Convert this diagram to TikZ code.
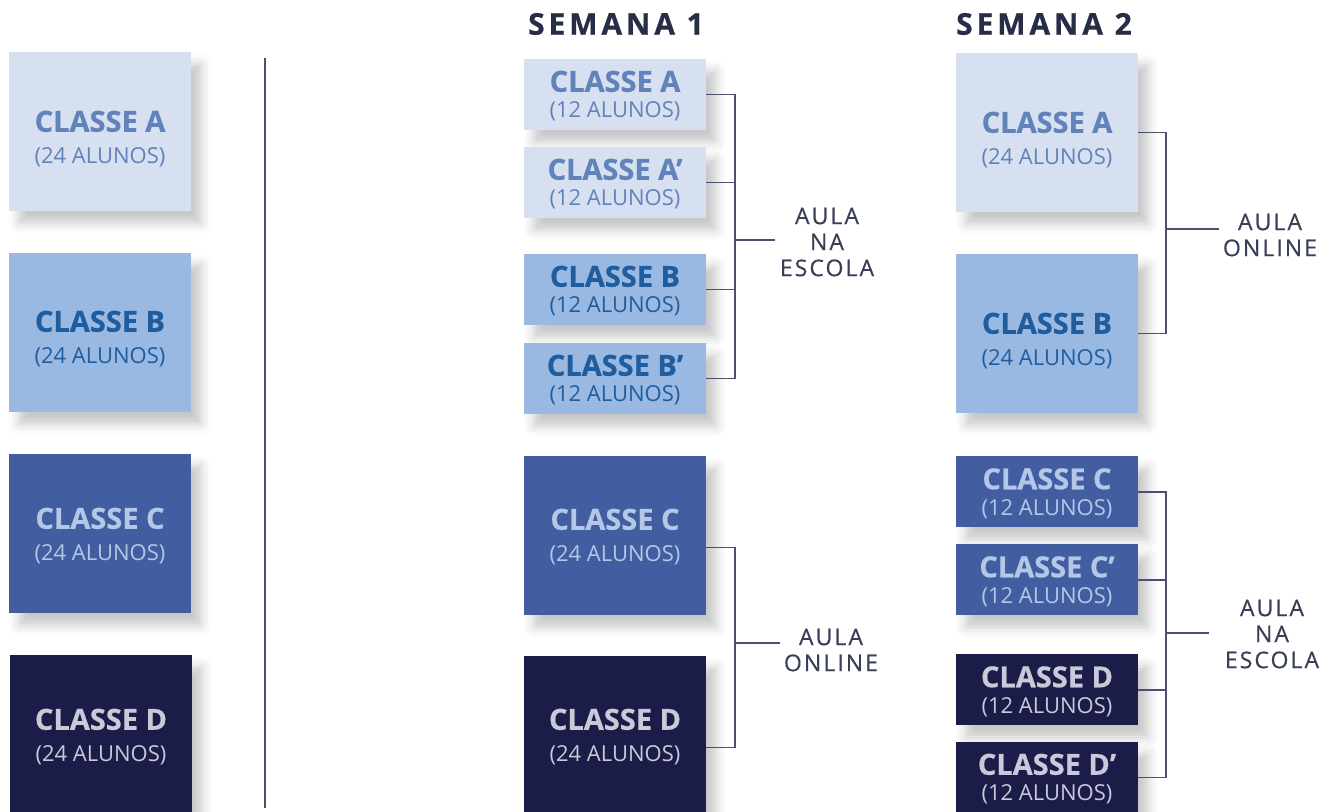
\documentclass[tikz,border=0pt]{standalone}
\usepackage{fontspec}
\setmainfont{Open Sans}
\usetikzlibrary{shadows.blur}

\definecolor{fillA}{HTML}{D6E0F1}
\definecolor{textA}{HTML}{6282BA}
\definecolor{fillB}{HTML}{9AB9E2}
\definecolor{textB}{HTML}{1F5D9F}
\definecolor{fillC}{HTML}{425EA0}
\definecolor{textC}{HTML}{B5C7E8}
\definecolor{fillD}{HTML}{1C1C49}
\definecolor{textD}{HTML}{C8C9D9}
\definecolor{titlec}{HTML}{272C47}
\definecolor{lblc}{HTML}{3A3F58}
\definecolor{linec}{HTML}{4B5070}

% [gap between lines][strut that pushes the text down]{name}{pupils}
\NewDocumentCommand{\cls}{O{0pt} O{0pt} m m}{%
  {\bfseries\fontsize{14.5}{14}\selectfont\addfontfeature{FakeBold=0.6}\rule{0pt}{#2}#3}\\[#1]%
  {\fontsize{11}{13}\selectfont #4}}

\tikzset{
  box/.style={minimum width=91pt, inner sep=0pt, align=center,
    blur shadow={shadow xshift=5pt, shadow yshift=-6pt, shadow blur radius=5pt, shadow opacity=22}},
  big/.style={box, minimum height=79.5pt},
  small/.style={box, minimum height=35.5pt},
  kA/.style={fill=fillA, text=textA},
  kB/.style={fill=fillB, text=textB},
  kC/.style={fill=fillC, text=textC},
  kD/.style={fill=fillD, text=textD},
  week/.style={text=titlec, font=\bfseries\fontsize{15}{16}\selectfont\addfontfeature{LetterSpace=13,FakeBold=0.6}},
  lbl/.style={text=lblc, align=center, inner sep=2pt,
    font=\fontsize{11.5}{13}\selectfont\addfontfeature{LetterSpace=9,FakeBold=0.5}},
  link/.style={draw=linec, line width=0.7pt}
}

\begin{document}
\begin{tikzpicture}[x=0.5pt,y=-0.5pt]
\useasboundingbox (0,0) rectangle (1324,812);

% classes iniciais
\node[big,kA] (A0) at (100,131.5) {\cls[4pt][18pt]{CLASSE A}{(24 ALUNOS)}};
\node[big,kB] (B0) at (100,332.5) {\cls[4pt][17pt]{CLASSE B}{(24 ALUNOS)}};
\node[big,kC] (C0) at (100,533.5) {\cls[4pt][13pt]{CLASSE C}{(24 ALUNOS)}};
\node[big,kD] (D0) at (101,734.5) {\cls[4pt][13pt]{CLASSE D}{(24 ALUNOS)}};
\draw[draw=linec, line width=0.8pt] (265,58) -- (265,808);

% semana 1
\node[week] (w1) at (616,24) {SEMANA 1};
\node[small,kA] (S1a) at (615,94.5) {\cls[1pt][12pt]{CLASSE A}{(12 ALUNOS)}};
\node[small,kA] (S1a') at (615,182.5) {\cls[1pt][12pt]{CLASSE A’}{(12 ALUNOS)}};
\node[small,kB] (S1b) at (615,289.5) {\cls[1pt][12pt]{CLASSE B}{(12 ALUNOS)}};
\node[small,kB] (S1b') at (615,378.5) {\cls[1pt][12pt]{CLASSE B’}{(12 ALUNOS)}};
\node[big,kC] (S1c) at (615,535.5) {\cls[4pt][12pt]{CLASSE C}{(24 ALUNOS)}};
\node[big,kD] (S1d) at (615,735.5) {\cls[4pt][12pt]{CLASSE D}{(24 ALUNOS)}};

\node[lbl] (t1) at (827,242) {AULA\\NA\\ESCOLA};
\node[lbl] (t2) at (831,650) {AULA\\ONLINE};
\coordinate (j1) at (735,240);
\coordinate (j2) at (735,643);
\draw[link] (S1a.east) -| (j1);
\draw[link] (S1a'.east) -| (j1);
\draw[link] (S1b.east) -| (j1);
\draw[link] (S1b'.east) -| (j1);
\draw[link] (j1) -- (t1.west |- j1);
\draw[link] (S1c.east) ++(0,12) -| (j2);
\draw[link] (S1d.east) ++(0,12) -| (j2);
\draw[link] (j2) -- (t2.west |- j2);

% semana 2
\node[week] (w2) at (1044,24) {SEMANA 2};
\node[big,kA] (S2a) at (1047,132.5) {\cls[4pt][18pt]{CLASSE A}{(24 ALUNOS)}};
\node[big,kB] (S2b) at (1047,333.5) {\cls[4pt][18pt]{CLASSE B}{(24 ALUNOS)}};
\node[small,kC] (S2c) at (1047,492) {\cls[1pt][12pt]{CLASSE C}{(12 ALUNOS)}};
\node[small,kC] (S2c') at (1047,580) {\cls[1pt][12pt]{CLASSE C’}{(12 ALUNOS)}};
\node[small,kD] (S2d) at (1047,690) {\cls[1pt][12pt]{CLASSE D}{(12 ALUNOS)}};
\node[small,kD] (S2d') at (1047,777.5) {\cls[1pt][12pt]{CLASSE D’}{(12 ALUNOS)}};

\node[lbl] (t3) at (1270,235) {AULA\\ONLINE};
\node[lbl, inner xsep=8pt] (t4) at (1272,634) {AULA\\NA\\ESCOLA};
\coordinate (j3) at (1166,229);
\coordinate (j4) at (1166,633);
\draw[link] (S2a.east) -| (j3);
\draw[link] (S2b.east) -| (j3);
\draw[link] (j3) -- (t3.west |- j3);
\draw[link] (S2c.east) -| (j4);
\draw[link] (S2c'.east) -| (j4);
\draw[link] (S2d.east) -| (j4);
\draw[link] (S2d'.east) -| (j4);
\draw[link] (j4) -- (t4.west |- j4);
\end{tikzpicture}
\end{document}
